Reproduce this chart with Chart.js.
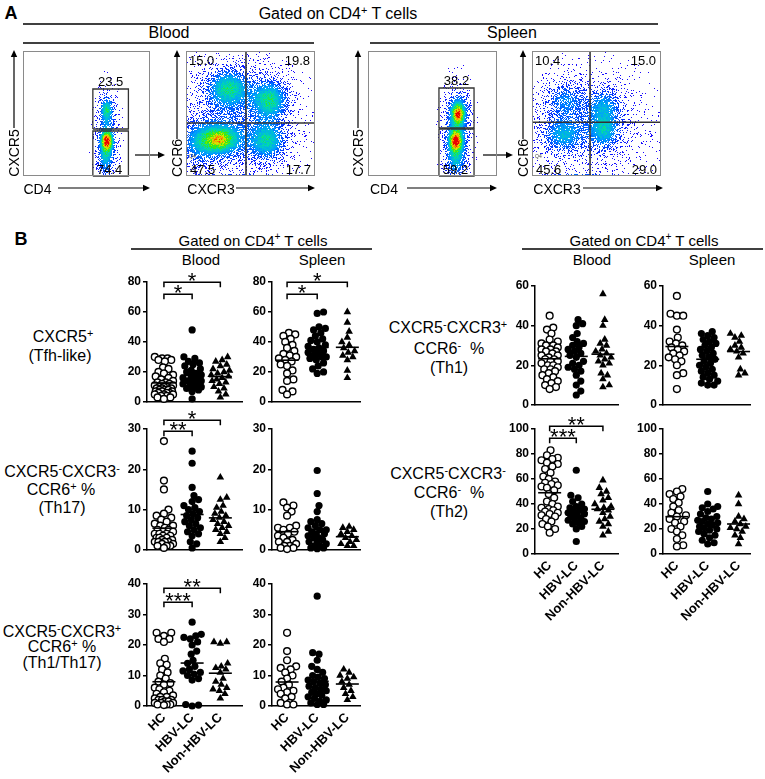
<!DOCTYPE html>
<html><head><meta charset="utf-8">
<script src="https://cdn.jsdelivr.net/npm/chart.js@4.4.1/dist/chart.umd.min.js"></script>
<style>
html,body{margin:0;padding:0;background:#fff;}
#root{position:relative;width:765px;height:779px;overflow:hidden;font-family:"Liberation Sans",Arial,sans-serif;color:#000;}
.t{position:absolute;white-space:nowrap;transform:translate(-50%,-50%);line-height:1;}
.t sup{font-size:68%;vertical-align:0.5em;line-height:0;}
canvas{position:absolute;}
svg{position:absolute;left:0;top:0;}
</style></head><body><div id="root"></div>
<script>
// ---------------- DATA ----------------
const groups = ['HC', 'HBV-LC', 'Non-HBV-LC'];

// Panel A: flow cytometry populations [centerX, centerY, spreadX, spreadY, density] on 0-100 axes
const bloodCD4Clusters = [[66,32,6,24,0.16],[66,53,3.5,7,0.42],[66,28,4,8,0.4],[66,28,2.6,4,0.5],[65,12,4,8,0.25]];
const bloodCXCR3Clusters = [[38,45,30,30,0.15],[33,70,11,10,0.42],[65,61,9,10,0.45],[26,29,12,9,0.5],[25,29,5,4,0.22],[63,28,9,10,0.4],[8,25,8,12,0.2],[45,0,25,0.7,0.6]];
const spleenCD4Clusters = [[69,36,7,24,0.18],[70,52,5,8,0.45],[70,49,2.5,3.5,0.45],[68,28,5,9,0.45],[68,28,2.5,4,0.5],[68,10,5,8,0.25]];
const spleenCXCR3Clusters = [[42,42,30,28,0.13],[26,61,10,9,0.22],[56,56,8,9,0.26],[24,33,10,9,0.3],[56,36,8,9,0.32],[38,0,22,0.7,0.85]];
// gates [x0, x1, y0, y1] and percentages
const bloodGates = [[55,83,37.6,69.6],[55,83,0,36]];
const bloodGatePct = [23.5, 74.4];
const spleenGates = [[55,82.2,38.4,70.4],[55,82.2,0,37.6]];
const spleenGatePct = [38.2, 59.2];
// quadrant thresholds [x, y] and percentages [TL, TR, BL, BR]
const bloodQuad = [46.5, 42.4];
const bloodQuadPct = [15.0, 19.8, 47.5, 17.7];
const spleenQuad = [45, 43];
const spleenQuadPct = [10.4, 15.0, 45.6, 29.0];

// Panel B: CXCR5+ (Tfh-like)
const tfhBloodHC = [30,29,29,28,28,27,23,22,20,19,18,17,16,15,14,13,13,12,12,11,11,10,10,10,9,9,9,8,8,8,7,7,7,6,6,6,5,5,5,4,4,3,3,2];
const tfhBloodHBV = [48,30,29,27,26,25,24,22,21,20,19,18,17,16,15,14,14,13,12,12,11,10,10,9,8,7,2];
const tfhBloodNon = [30,28,27,25,24,22,21,20,19,18,17,16,15,14,13,12,10,9,7,5,3];
const tfhSpleenHC = [46,45,44,42,40,38,36,34,32,31,30,29,28,27,25,24,21,19,15,14,8,7,5];
const tfhSpleenHBV = [60,59,50,49,48,46,44,42,41,40,38,37,36,35,34,33,32,31,30,30,29,28,26,24,22,20,19];
const tfhSpleenNon = [60,53,47,43,40,38,36,34,33,31,30,28,21,16];
// CXCR5-CXCR3-CCR6+ (Th17)
const th17BloodHC = [27,17.2,15,10,9,8.5,8,7.5,7,6.5,6,6,5.5,5,5,4.5,4.5,4,4,4,3.5,3.5,3,3,3,2.5,2.5,2,2,2,2,1.5,1.5,1,1,1,0.5];
const th17BloodHBV = [24.5,21.5,15.5,13.5,12.5,12,11,10.5,10,9.5,9,8.5,8,7.5,7,6.5,6,5.5,5,4.5,4,3.5,2,1.5,0.5];
const th17BloodNon = [18,13,12.5,11,10.5,9.5,9,8.5,8,7.5,7,6.5,6,5.5,5,4.5,4,3,2];
const th17SpleenHC = [11.8,11,10.5,9.5,8.5,6,5.5,5.5,5,4.5,4,3.5,3,2.5,2,2,1.5,1,1,0.5,0.5,0.2];
const th17SpleenHBV = [19.7,14,11,9.5,7.5,7,6.5,6,5.5,5,5,4.5,4,4,3.5,3,3,2.5,2,2,1.5,1,1,0.5,0.5,0.3];
const th17SpleenNon = [5.8,5.5,5,4.5,4,3.5,3,2.5,2,1.5,1,1];
// CXCR5-CXCR3+CCR6+ (Th1/Th17)
const th1th17BloodHC = [24,24,23,22,22,21,15.5,14,13.5,12,11,10,9,8,7.5,7,6,5.5,5,4.5,4,3.5,3,3,2.5,2,2,2,1.5,1.5,1,1,1,0.5,0.5,0.5,0.3];
const th1th17BloodHBV = [27.5,23.5,23,22.5,22,21,20,18,17,15,14,13,12,11.5,11,10.5,10,9,8.5,0.5,0.3,0];
const th1th17BloodNon = [21,21,20.5,14,13,12.5,12,11,9,8,7,6,5.5,5,4,2.5];
const th1th17SpleenHC = [24,18,15,13,12.5,12,11,10,9,8,7,6,5.5,5,4.5,4,3,2.5,1,1,0.5,0.5];
const th1th17SpleenHBV = [36,17.5,17,15,13,12,11,10,9.5,9,8.5,8,7.5,7,6.5,6,5.5,5,4.5,4,3.5,3,2.5,2,1.5,1,0.5,0.5];
const th1th17SpleenNon = [12,11,10,9.5,9,8,7,6,5,4,3,2];
// CXCR5-CXCR3+CCR6- (Th1)
const th1BloodHC = [45,39,38,36,33,32,31,30,30,29,28,28,27,27,26,25,25,24,23,23,22,22,21,20,20,19,18,18,17,16,15,14,13,12,11,10,9,8];
const th1BloodHBV = [43,41,40,36,34,32,31,30,29,28,27,26,25,24,22,21,20,19,18,17,15,12,10,7,5];
const th1BloodNon = [56,43,40,33,31,30,28,27,26,25,24,23,22,21,20,16,15,13,10,9];
const th1SpleenHC = [55,46,45,45,38,34,32,31,30,29,28,27,26,25,24,23,22,20,16,15,8];
const th1SpleenHBV = [37,36,35,34,33,32,31,30,29,28,27,26,25,24,23,22,21,20,19,18,17,16,15,14,13,12,11,10,10];
const th1SpleenNon = [36,35,34,32,30,29,28,27,26,24,18,16,15];
// CXCR5-CXCR3-CCR6- (Th2)
const th2BloodHC = [83,79,77,76,75,73,72,70,68,65,62,60,58,57,56,55,54,53,51,48,45,42,40,38,37,36,35,34,33,32,31,30,28,26,24,22,20,17];
const th2BloodHBV = [67,47,45,42,40,38,37,36,35,34,33,32,31,30,29,28,27,26,25,24,22,20,10];
const th2BloodNon = [59,53,50,48,45,43,40,38,37,36,35,33,30,28,26,24,22,18,15];
const th2SpleenHC = [52,50,48,46,44,41,38,35,33,31,30,28,26,25,22,20,18,15,12,7,6];
const th2SpleenHBV = [50,40,38,37,36,34,32,30,29,28,27,26,25,24,23,22,21,20,19,18,16,15,13,11,9,8];
const th2SpleenNon = [47,40,30,28,26,24,22,21,20,18,15,13,8];
// significance brackets [groupFrom, groupTo, level, stars]
const sigTfhBlood = [[1,2,72,1],[1,3,80,1]];
const sigTfhSpleen = [[1,2,72,1],[1,3,80,1]];
const sigTh17Blood = [[1,2,29.4,2],[1,3,32.2,1]];
const sigTh1Th17Blood = [[1,2,34.2,3],[1,3,38.7,2]];
const sigTh2Blood = [[1,2,92.6,3],[1,3,102.6,2]];

// ---------------- RENDERING ----------------
const FONT = '"Liberation Sans", Arial, sans-serif';
Chart.defaults.font.family = FONT;
Chart.defaults.color = '#000';
const root = document.getElementById('root');

const CMAP = [[0,[30,0,255]],[0.2,[0,60,255]],[0.35,[0,160,255]],[0.5,[0,220,170]],[0.62,[60,235,0]],[0.75,[215,235,0]],[0.87,[255,150,0]],[1,[235,0,0]]];
function cmap(t){
  for (let i=1;i<CMAP.length;i++){
    if (t<=CMAP[i][0]){
      const [t0,c0]=CMAP[i-1],[t1,c1]=CMAP[i]; const f=(t-t0)/(t1-t0);
      return [0,1,2].map(k=>Math.round(c0[k]+(c1[k]-c0[k])*f));
    }
  }
  return CMAP[CMAP.length-1][1];
}
function frac(v){return v-Math.floor(v);}
// deterministic pixel hash used only as a dithering texture for the density rendering
function grain(i,j){return frac(Math.sin(i*12.9898+j*78.233)*43758.5453);}

Chart.register({
  id:'density',
  beforeDatasetsDraw(chart, args, o){
    if (!o || !o.clusters) return;
    const {ctx, chartArea:a, scales:{x,y}} = chart;
    const w=Math.round(a.right-a.left), h=Math.round(a.bottom-a.top);
    const off=document.createElement('canvas'); off.width=w; off.height=h;
    const oc=off.getContext('2d'); const img=oc.createImageData(w,h);
    const cl=o.clusters;
    for (let j=0;j<h;j++){
      const vy=y.getValueForPixel(a.top+j+0.5);
      for (let i=0;i<w;i++){
        const vx=x.getValueForPixel(a.left+i+0.5);
        let d=0;
        for (const c of cl){const dx=(vx-c[0])/c[2], dy=(vy-c[1])/c[3]; d+=c[4]*Math.exp(-0.5*(dx*dx+dy*dy));}
        if (d<0.012) continue;
        const cov=Math.min(1,Math.pow(d/0.4,1.2));
        if (grain(i,j)>cov) continue;
        const g2=grain(j+0.37,i+0.71);
        const col=cmap(Math.max(0,Math.min(1,d*(0.85+0.3*g2))));
        const p=(j*w+i)*4;
        img.data[p]=col[0]; img.data[p+1]=col[1]; img.data[p+2]=col[2]; img.data[p+3]=255;
      }
    }
    oc.putImageData(img,0,0);
    ctx.drawImage(off,a.left,a.top);
  }
});

Chart.register({
  id:'flowLabels',
  afterDatasetsDraw(chart, args, o){
    if (!o || !o.on) return;
    const {ctx, chartArea:a, scales:{x,y}} = chart;
    ctx.save();
    ctx.strokeStyle='#8a8a8a'; ctx.lineWidth=1;
    ctx.strokeRect(a.left+0.5,a.top+0.5,a.right-a.left-1,a.bottom-a.top-1);
    ctx.fillStyle='#000'; ctx.font='13px '+FONT; ctx.textBaseline='middle';
    if (o.gates){
      o.gates.forEach((g,i)=>{
        const cx=(x.getPixelForValue(g[0])+x.getPixelForValue(g[1]))/2;
        ctx.textAlign='center';
        const s=o.pct[i].toFixed(1);
        if (i===0) ctx.fillText(s,cx,y.getPixelForValue(g[3])-7);
        else ctx.fillText(s,cx-1,a.bottom-6);
      });
    }
    if (o.quad){
      const s=o.pct.map(v=>v.toFixed(1));
      ctx.textAlign='left'; ctx.fillText(s[0],a.left+3,a.top+10);
      ctx.textAlign='right'; ctx.fillText(s[1],a.right-5,a.top+10);
      ctx.textAlign='left'; ctx.fillText(s[2],a.left+4,a.bottom-6);
      ctx.textAlign='right'; ctx.fillText(s[3],a.right-4,a.bottom-6);
      ctx.font='5px '+FONT; ctx.fillStyle='#444'; ctx.textAlign='left'; ctx.fillText('Q4',a.left+3,a.bottom-19);
    }
    ctx.restore();
  }
});

Chart.register({
  id:'sig',
  afterDatasetsDraw(chart, args, o){
    if (!o || !o.items) return;
    const {ctx, scales:{x,y}} = chart;
    ctx.save(); ctx.strokeStyle='#000'; ctx.fillStyle='#000'; ctx.lineWidth=1.5;
    ctx.font='22px '+FONT; ctx.textAlign='center'; ctx.textBaseline='alphabetic';
    o.items.forEach(([g1,g2,lev,n])=>{
      const x1=x.getPixelForValue(g1), x2=x.getPixelForValue(g2), yy=Math.round(y.getPixelForValue(lev))+0.25;
      ctx.beginPath(); ctx.moveTo(x1,yy+5); ctx.lineTo(x1,yy); ctx.lineTo(x2,yy); ctx.lineTo(x2,yy+5); ctx.stroke();
      ctx.fillText('*'.repeat(n),(x1+x2)/2,yy+6);
    });
    ctx.restore();
  }
});

function makeCanvas(l,t,w,h){
  const c=document.createElement('canvas');
  c.width=w; c.height=h; c.style.left=l+'px'; c.style.top=t+'px'; c.style.width=w+'px'; c.style.height=h+'px';
  root.appendChild(c); return c;
}

function swarm(vals, center, pxX, pxY, maxPx, minD){
  const idx=vals.map((_,i)=>i).sort((a,b)=>vals[a]-vals[b]);
  const placed=[], xs=new Array(vals.length);
  for (const i of idx){
    const py=vals[i]*pxY; let bestOff=0, bestD=-1;
    for (let k=0;k<=2*maxPx;k++){
      const off=k===0?0:(k%2?(k+1)/2:-k/2);
      let d=Infinity;
      for (const p of placed){const dd=Math.hypot(p[0]-off,p[1]-py); if(dd<d)d=dd;}
      if (d>=minD){bestOff=off;bestD=d;break;}
      if (d>bestD){bestD=d;bestOff=off;}
    }
    placed.push([bestOff,py]); xs[i]=center+bestOff/pxX;
  }
  return xs;
}

function dotChart(cfg){
  const [axL,axR,yTop,yBot]=cfg.box;
  const YW=40, PT=34, PR=4, XH=cfg.labels?80:10;
  const cw=axR-axL, ch=yBot-yTop;
  const cv=makeCanvas(axL-YW,yTop-PT,YW+cw+PR,PT+ch+XH);
  const [xmin,xmax]=cfg.xr, [ymax,step]=cfg.yr;
  const pxX=cw/(xmax-xmin), pxY=ch/ymax, maxPx=Math.round(pxX*0.31);
  const styles=[
    {pointStyle:'circle',pointRadius:3.4,pointBackgroundColor:'#fff',pointBorderColor:'#000',pointBorderWidth:1.4},
    {pointStyle:'circle',pointRadius:3.6,pointBackgroundColor:'#000',pointBorderColor:'#000',pointBorderWidth:0},
    {pointStyle:'triangle',pointRadius:4.4,pointBackgroundColor:'#000',pointBorderColor:'#000',pointBorderWidth:0}
  ];
  const means=cfg.data.map((arr,k)=>({x:k+1,y:arr.reduce((s,v)=>s+v,0)/arr.length}));
  const datasets=[{data:means,pointStyle:'line',pointRadius:11.5,pointBorderColor:'#000',pointBorderWidth:1.6,clip:false}];
  cfg.data.forEach((arr,k)=>{
    const xs=swarm(arr,k+1,pxX,pxY,maxPx,6.4);
    datasets.push(Object.assign({data:arr.map((v,i)=>({x:xs[i],y:v})),clip:false},styles[k]));
  });
  new Chart(cv,{type:'scatter',data:{datasets},options:{
    responsive:false,animation:false,events:[],
    layout:{padding:{top:PT,left:0,right:PR,bottom:0}},
    plugins:{legend:{display:false},tooltip:{enabled:false},sig:{items:cfg.sig||null}},
    scales:{
      x:{type:'linear',min:xmin,max:xmax,
        afterBuildTicks:s=>{s.ticks=[1,2,3].map(v=>({value:v}));},
        afterFit:s=>{s.height=XH;},
        ticks:{display:!!cfg.labels,autoSkip:false,minRotation:45,maxRotation:45,padding:4,color:'#000',font:{size:13,weight:'bold'},callback:v=>groups[v-1]},
        grid:{display:false,drawTicks:false},
        border:{display:true,color:'#000',width:1.5}},
      y:{type:'linear',min:0,max:ymax,
        afterFit:s=>{s.width=YW;},
        ticks:{stepSize:step,padding:2,color:'#000',font:{size:12,weight:'bold'}},
        grid:{display:true,drawOnChartArea:false,drawTicks:true,tickLength:4,color:'#000',lineWidth:1.5},
        border:{display:true,color:'#000',width:1.5}}
    }}});
}

function flowChart(box, clusters, kind, geom, pct){
  const [l,t,w,h]=box;
  const cv=makeCanvas(l-2,t-2,w+4,h+4);
  const datasets=[];
  const lineStyle={showLine:true,pointRadius:0,borderColor:'#333',borderWidth:1.3,clip:false};
  if (kind==='gate'){
    geom.forEach(g=>datasets.push(Object.assign({data:[{x:g[0],y:g[2]},{x:g[1],y:g[2]},{x:g[1],y:g[3]},{x:g[0],y:g[3]},{x:g[0],y:g[2]}]},lineStyle)));
  } else {
    datasets.push(Object.assign({data:[{x:geom[0],y:0},{x:geom[0],y:100}]},lineStyle,{borderWidth:1.6}));
    datasets.push(Object.assign({data:[{x:0,y:geom[1]},{x:100,y:geom[1]}]},lineStyle,{borderWidth:1.6}));
  }
  new Chart(cv,{type:'scatter',data:{datasets},options:{
    responsive:false,animation:false,events:[],
    layout:{padding:2},
    plugins:{legend:{display:false},tooltip:{enabled:false},density:{clusters},
      flowLabels:{on:true,gates:kind==='gate'?geom:null,quad:kind==='quad'?geom:null,pct}},
    scales:{x:{type:'linear',min:0,max:100,display:false},y:{type:'linear',min:0,max:100,display:false}}
  }});
}

// ---- overlay lines & arrows ----
const NS='http://www.w3.org/2000/svg';
const svg=document.createElementNS(NS,'svg'); svg.setAttribute('width','765'); svg.setAttribute('height','779');
root.appendChild(svg);
function L(x1,y1,x2,y2,w){const e=document.createElementNS(NS,'line');
  e.setAttribute('x1',x1);e.setAttribute('y1',y1);e.setAttribute('x2',x2);e.setAttribute('y2',y2);
  e.setAttribute('stroke','#000');e.setAttribute('stroke-width',w||1.3);svg.appendChild(e);}
function A(x1,y1,x2,y2){
  const dx=x2-x1, dy=y2-y1, len=Math.hypot(dx,dy), ux=dx/len, uy=dy/len, hl=7, hw=3.2;
  L(x1,y1,x2-ux*hl*0.8,y2-uy*hl*0.8,1.2);
  const p=document.createElementNS(NS,'polygon');
  const bx=x2-ux*hl, by=y2-uy*hl;
  p.setAttribute('points',`${x2},${y2} ${bx-uy*hw},${by+ux*hw} ${bx+uy*hw},${by-ux*hw}`);
  p.setAttribute('fill','#000'); svg.appendChild(p);
}
function T(html,x,y,size,o){
  o=o||{}; const d=document.createElement('div'); d.className='t'; d.innerHTML=html;
  d.style.left=x+'px'; d.style.top=y+'px'; d.style.fontSize=size+'px';
  if (o.bold) d.style.fontWeight='bold';
  if (o.rot) d.style.transform='translate(-50%,-50%) rotate(-90deg)';
  root.appendChild(d);
}

// Panel A
T('A',11,13,18,{bold:true});
T('Gated on CD4<sup>+</sup> T cells',338,14,16);
L(23,24,658,24,1.4);
T('Blood',169,33,16); L(23,43,314,43,1.4);
T('Spleen',512,33,16); L(370,43,660,43,1.4);

flowChart([23,51,127,125],bloodCD4Clusters,'gate',bloodGates,bloodGatePct);
flowChart([186,51,129,125],bloodCXCR3Clusters,'quad',bloodQuad,bloodQuadPct);
flowChart([368,51,129,125],spleenCD4Clusters,'gate',spleenGates,spleenGatePct);
flowChart([532,51,129,125],spleenCXCR3Clusters,'quad',spleenQuad,spleenQuadPct);

T('CXCR5',14,153,14,{rot:true}); A(14,128,14,50);
T('CD4',37.5,189,14); A(58,188,150,188);
T('CCR6',177,158,14,{rot:true}); A(177,139,177,50);
T('CXCR3',211,189,14); A(236,188,315,188);
A(135,155,165,155);
T('CXCR5',358,153,14,{rot:true}); A(358,128,358,50);
T('CD4',384,189,14); A(407,188,497,188);
T('CCR6',523,158,14,{rot:true}); A(523,139,523,50);
T('CXCR3',557,189,14); A(583,188,663,188);
A(483,155,513,155);

// Panel B headers
T('B',21,239,18,{bold:true});
T('Gated on CD4<sup>+</sup> T cells',253,240,15); L(131,249,372,249,1.4);
T('Blood',201,259,15); T('Spleen',322,259,15);
T('Gated on CD4<sup>+</sup> T cells',644,240,15); L(522,249,763,249,1.4);
T('Blood',592,259,15); T('Spleen',712,259,15);

// Row labels
T('CXCR5<sup>+</sup>',63,337,16); T('(Tfh-like)',60,356,16);
T('CXCR5<sup>-</sup>CXCR3<sup>-</sup>',62,472,16); T('CCR6<sup>+</sup> %',61,490,16); T('(Th17)',62,508,16);
T('CXCR5<sup>-</sup>CXCR3<sup>+</sup>',62,632,16); T('CCR6<sup>+</sup> %',62,647,16); T('(Th1/Th17)',62,663,16);
T('CXCR5<sup>-</sup>CXCR3<sup>+</sup>',448,328,16); T('CCR6<sup>-</sup> &nbsp;%',449,349,16); T('(Th1)',449,368,16);
T('CXCR5<sup>-</sup>CXCR3<sup>-</sup>',448,474,16); T('CCR6<sup>-</sup> &nbsp;%',449,493,16); T('(Th2)',449,512,16);

// Dot plots
const LB=[147,252], LS=[272,370], RB=[535,628], RS=[663,760];
const xrLB=[0.4,3.8], xrLS=[0.5,3.45], xrRB=[0.45,3.6], xrRS=[0.55,3.4];
dotChart({box:[...LB,282,405],xr:xrLB,yr:[80,20],data:[tfhBloodHC,tfhBloodHBV,tfhBloodNon],sig:sigTfhBlood});
dotChart({box:[...LS,282,405],xr:xrLS,yr:[80,20],data:[tfhSpleenHC,tfhSpleenHBV,tfhSpleenNon],sig:sigTfhSpleen});
dotChart({box:[...LB,429,553],xr:xrLB,yr:[30,10],data:[th17BloodHC,th17BloodHBV,th17BloodNon],sig:sigTh17Blood});
dotChart({box:[...LS,429,553],xr:xrLS,yr:[30,10],data:[th17SpleenHC,th17SpleenHBV,th17SpleenNon]});
dotChart({box:[...LB,584,706],xr:xrLB,yr:[40,10],data:[th1th17BloodHC,th1th17BloodHBV,th1th17BloodNon],sig:sigTh1Th17Blood,labels:true});
dotChart({box:[...LS,584,706],xr:xrLS,yr:[40,10],data:[th1th17SpleenHC,th1th17SpleenHBV,th1th17SpleenNon],labels:true});
dotChart({box:[...RB,286,408],xr:xrRB,yr:[60,20],data:[th1BloodHC,th1BloodHBV,th1BloodNon]});
dotChart({box:[...RS,286,408],xr:xrRS,yr:[60,20],data:[th1SpleenHC,th1SpleenHBV,th1SpleenNon]});
dotChart({box:[...RB,429,554],xr:xrRB,yr:[100,20],data:[th2BloodHC,th2BloodHBV,th2BloodNon],sig:sigTh2Blood,labels:true});
dotChart({box:[...RS,429,554],xr:xrRS,yr:[100,20],data:[th2SpleenHC,th2SpleenHBV,th2SpleenNon],labels:true});
</script></body></html>
